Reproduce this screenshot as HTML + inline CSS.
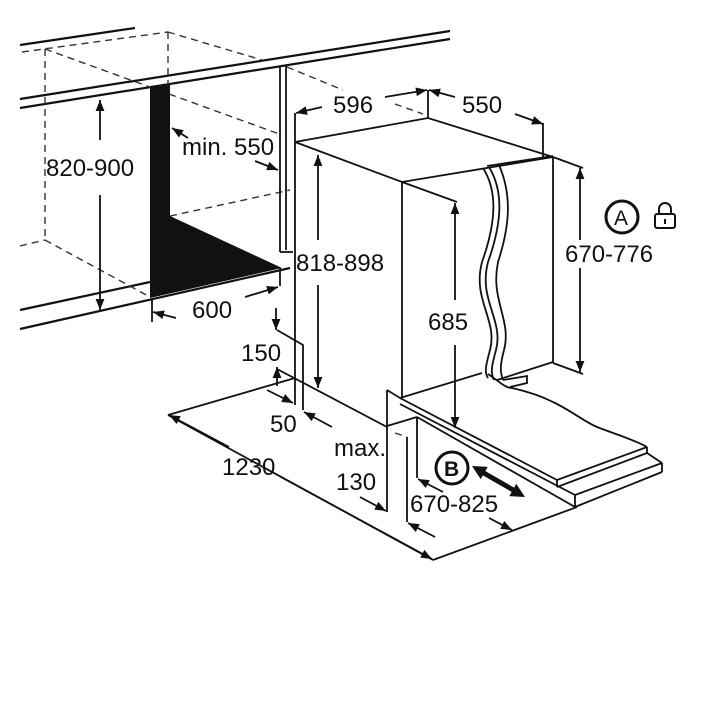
<!DOCTYPE html>
<html><head><meta charset="utf-8"><style>
html,body{margin:0;padding:0;background:#fff;}
svg{display:block;}
text{font-family:"Liberation Sans",sans-serif;font-size:24px;fill:#111;}
</style></head><body>
<svg width="720" height="720" viewBox="0 0 720 720" xmlns="http://www.w3.org/2000/svg">
<defs>
<marker id="a" viewBox="0 0 10 10" refX="10" refY="5" markerWidth="12" markerHeight="11" markerUnits="userSpaceOnUse" orient="auto-start-reverse">
<path d="M0,1 L10,5 L0,9 z" fill="#111"/></marker>
</defs>
<g stroke="#111" fill="none" stroke-width="2.2">
<line x1="20" y1="99" x2="450" y2="31"/>
<line x1="20" y1="108" x2="450" y2="39"/>
<line x1="20" y1="45" x2="135" y2="28"/>
<line x1="20" y1="310" x2="150" y2="282"/>
<line x1="20" y1="329" x2="290" y2="268"/>
</g>
<g stroke="#333" fill="none" stroke-width="1.4" stroke-dasharray="7,5">
<line x1="22" y1="52" x2="168" y2="32"/>
<line x1="168" y1="32" x2="262" y2="60"/>
<line x1="287" y1="67" x2="343" y2="90"/>
<line x1="395" y1="104" x2="423" y2="114"/>
<line x1="45" y1="49" x2="282" y2="135"/>
<line x1="45" y1="49" x2="45" y2="240"/>
<line x1="168" y1="32" x2="168" y2="86"/>
<line x1="45" y1="240" x2="150" y2="297"/>
<line x1="20" y1="246" x2="45" y2="240"/>
<line x1="170" y1="216" x2="290" y2="190"/>
<line x1="395" y1="433" x2="407" y2="437"/>
</g>
<polygon points="150,87 170,84 170,216 282,268 150,298" fill="#111"/>
<g stroke="#111" fill="none" stroke-width="1.8">
<line x1="280" y1="66" x2="280" y2="252"/>
<line x1="286" y1="66" x2="286" y2="250"/>
<line x1="280" y1="252" x2="293" y2="252"/>
<line x1="152" y1="298" x2="152" y2="322"/>
<line x1="280" y1="268" x2="280" y2="286"/>
<polyline points="295,142 428,118 553,157 402,182 295,142"/>
<line x1="295" y1="113" x2="295" y2="405"/>
<line x1="402" y1="182" x2="402" y2="398"/>
<line x1="553" y1="157" x2="553" y2="363"/>
<line x1="428" y1="90" x2="428" y2="118"/>
<line x1="543" y1="123" x2="543" y2="157"/>
<line x1="487" y1="166" x2="553" y2="156"/>
<line x1="402" y1="182" x2="457" y2="202"/>
<line x1="553" y1="157" x2="583" y2="168"/>
<line x1="553" y1="363" x2="583" y2="374"/>
<line x1="553" y1="362" x2="497" y2="380"/>
<polyline points="503,380 527,376 527,383 510,387"/>
<line x1="400" y1="398" x2="482" y2="373"/>
<path d="M483,168 C497,190 497,220 482,262 C472,300 498,320 490,350 C486,365 484,372 488,378" />
<path d="M489,167 C503,190 503,220 488,262 C478,300 504,320 496,350 C492,365 490,372 494,380" />
<path d="M499,165 C512,195 510,225 498,262 C490,300 512,320 504,350 C500,365 500,372 503,380" />
<path d="M488,374 C500,382 505,388 512,388 C530,392 545,398 553,402 C570,410 585,422 597,427 C615,434 635,440 647,447"/>
<line x1="400" y1="398" x2="557" y2="480"/>
<line x1="400" y1="404" x2="575" y2="495"/>
<line x1="417" y1="417" x2="575" y2="507"/>
<line x1="557" y1="480" x2="647" y2="447"/>
<line x1="557" y1="480" x2="557" y2="487"/>
<line x1="557" y1="487" x2="647" y2="453"/>
<line x1="647" y1="447" x2="647" y2="453"/>
<line x1="647" y1="453" x2="662" y2="463"/>
<line x1="575" y1="495" x2="662" y2="463"/>
<line x1="575" y1="507" x2="662" y2="472"/>
<line x1="575" y1="495" x2="575" y2="507"/>
<line x1="662" y1="463" x2="662" y2="472"/>
<polyline points="387,390 400,398"/>
<line x1="387" y1="390" x2="387" y2="512"/>
<line x1="387" y1="426" x2="417" y2="417"/>
<line x1="417" y1="417" x2="417" y2="478"/>
<line x1="407" y1="437" x2="407" y2="522"/>
<line x1="168" y1="415" x2="295" y2="378"/>
<line x1="168" y1="415" x2="433" y2="560"/>
<line x1="433" y1="560" x2="577" y2="507"/>
<polyline points="277,330 303,345 303,410"/>
<line x1="277" y1="369" x2="387" y2="427"/>
</g>
<g stroke="#111" fill="none" stroke-width="1.8">
<line x1="100" y1="140" x2="100" y2="100" marker-end="url(#a)"/>
<line x1="100" y1="195" x2="100" y2="310" marker-end="url(#a)"/>
<line x1="188" y1="138" x2="172" y2="128" marker-end="url(#a)"/>
<line x1="255" y1="161" x2="278" y2="170" marker-end="url(#a)"/>
<line x1="176" y1="318" x2="153" y2="312" marker-end="url(#a)"/>
<line x1="245" y1="297" x2="278" y2="287" marker-end="url(#a)"/>
<line x1="318" y1="240" x2="318" y2="155" marker-end="url(#a)"/>
<line x1="318" y1="285" x2="318" y2="388" marker-end="url(#a)"/>
<line x1="455" y1="300" x2="455" y2="203" marker-end="url(#a)"/>
<line x1="455" y1="345" x2="455" y2="428" marker-end="url(#a)"/>
<line x1="580" y1="240" x2="580" y2="168" marker-end="url(#a)"/>
<line x1="580" y1="268" x2="580" y2="372" marker-end="url(#a)"/>
<line x1="322" y1="107" x2="296" y2="113" marker-end="url(#a)"/>
<line x1="385" y1="97" x2="427" y2="90" marker-end="url(#a)"/>
<line x1="455" y1="97" x2="429" y2="90" marker-end="url(#a)"/>
<line x1="515" y1="114" x2="543" y2="124" marker-end="url(#a)"/>
<line x1="276" y1="308" x2="276" y2="330" marker-end="url(#a)"/>
<line x1="277" y1="386" x2="277" y2="367" marker-end="url(#a)"/>
<line x1="267" y1="390" x2="293" y2="403" marker-end="url(#a)"/>
<line x1="332" y1="427" x2="304" y2="412" marker-end="url(#a)"/>
<line x1="229" y1="447" x2="169" y2="415" marker-end="url(#a)"/>
<line x1="281" y1="477" x2="432" y2="559" marker-end="url(#a)"/>
<line x1="360" y1="497" x2="386" y2="511" marker-end="url(#a)"/>
<line x1="435" y1="537" x2="408" y2="523" marker-end="url(#a)"/>
<line x1="443" y1="492" x2="418" y2="479" marker-end="url(#a)"/>
<line x1="489" y1="518" x2="512" y2="530" marker-end="url(#a)"/>
<line x1="482" y1="472" x2="515" y2="491" stroke-width="5"/>
</g>
<polygon points="472,466 480.7,479.1 487.7,466.9" fill="#111"/>
<polygon points="525,497 509.3,496.1 516.3,483.9" fill="#111"/>
<g stroke="#111" fill="none" stroke-width="3">
<circle cx="622" cy="217" r="16"/>
<circle cx="452" cy="468" r="16"/>
</g>
<g stroke="#111" fill="none" stroke-width="2">
<rect x="655" y="214" width="20" height="14" rx="2"/>
<path d="M659,214 v-5 a6,6 0 0 1 12,0 v5"/>
<line x1="665" y1="219" x2="665" y2="224"/>
</g>
<text x="614" y="225" style="font-size:21px">A</text>
<text x="444" y="476" style="font-size:21px;font-weight:bold">B</text>
<text x="46" y="176">820-900</text>
<text x="182" y="155">min. 550</text>
<text x="192" y="318">600</text>
<text x="296" y="271">818-898</text>
<text x="333" y="113">596</text>
<text x="462" y="113">550</text>
<text x="565" y="262">670-776</text>
<text x="428" y="330">685</text>
<text x="241" y="361">150</text>
<text x="270" y="432">50</text>
<text x="222" y="475">1230</text>
<text x="334" y="456">max.</text>
<text x="336" y="490">130</text>
<text x="410" y="512">670-825</text>
</svg>
</body></html>
